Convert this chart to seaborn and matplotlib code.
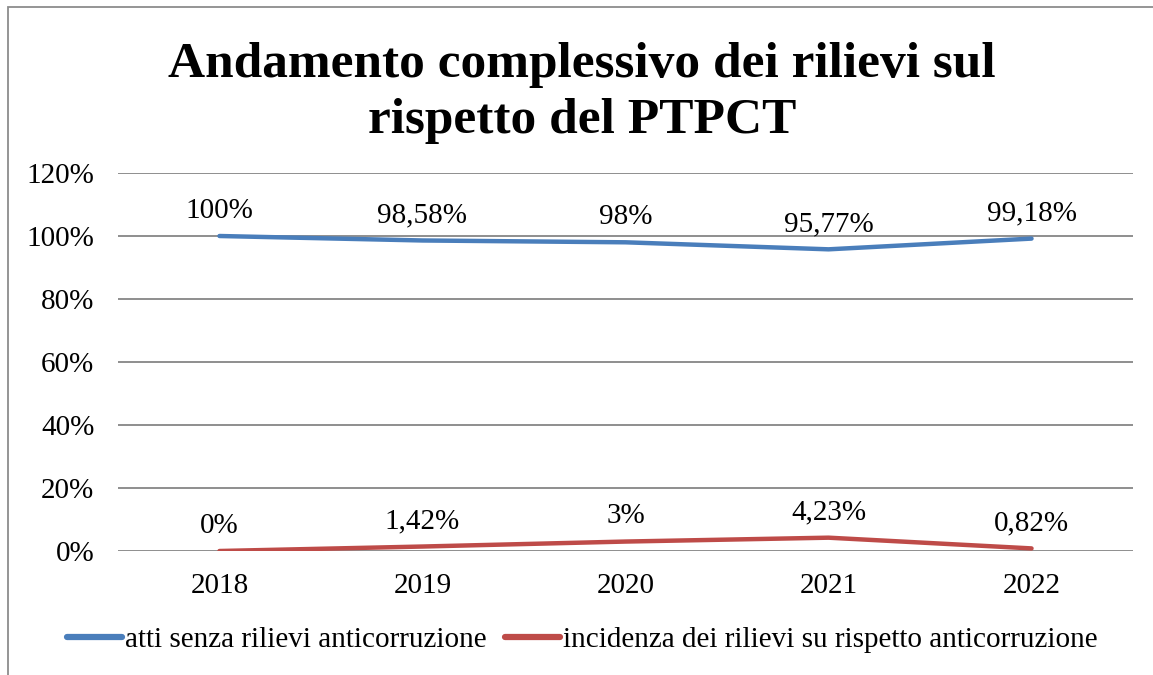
import seaborn as sns
import matplotlib.pyplot as plt
import pandas as pd
from matplotlib.patches import Rectangle

years = ["2018", "2019", "2020", "2021", "2022"]
senza_rilievi = [100, 98.58, 98, 95.77, 99.18]
incidenza_rilievi = [0, 1.42, 3, 4.23, 0.82]
series_names = ["atti senza rilievi anticorruzione",
                "incidenza dei rilievi su rispetto anticorruzione"]
y_ticks = [0, 20, 40, 60, 80, 100, 120]

df = pd.DataFrame({
    "anno": years * 2,
    "valore": senza_rilievi + incidenza_rilievi,
    "serie": [series_names[0]] * len(years) + [series_names[1]] * len(years),
})

sns.set_theme(style="white")
plt.rcParams['font.family'] = ['Liberation Serif', 'DejaVu Serif']
plt.rcParams['text.color'] = "black"

fig = plt.figure(figsize=(11.53, 6.75), dpi=100)
ax = fig.add_axes([0.1023, 0.1837, 0.8804, 0.56])

palette = {series_names[0]: "#4A7EBB", series_names[1]: "#BE4B48"}
sns.lineplot(data=df, x="anno", y="valore", hue="serie", palette=palette,
             linewidth=3.2, ax=ax, legend=False, sort=False,
             solid_capstyle="round", zorder=3)

# gridlines
for t in y_ticks:
    ax.axhline(t, color="#868686", linewidth=1.3, zorder=1)

ax.set_xlim(-0.5, len(years) - 0.5)
ax.set_ylim(0, 120)
ax.set_yticks(y_ticks)
ax.set_yticklabels([f"{t}%" for t in y_ticks], fontsize=21, color="black")
ax.set_xticks(range(len(years)))
ax.set_xticklabels(years, fontsize=21, color="black")
ax.tick_params(axis="y", pad=17, length=0)
ax.tick_params(axis="x", pad=16, length=0)
ax.set_xlabel("")
ax.set_ylabel("")
for s in ax.spines.values():
    s.set_visible(False)


def fmt(v):
    s = f"{v:.2f}".rstrip("0").rstrip(".")
    return s.replace(".", ",") + "%"


for vals in (senza_rilievi, incidenza_rilievi):
    for i, v in enumerate(vals):
        ax.annotate(fmt(v), (i, v), xytext=(0, 13), textcoords="offset points",
                    ha="center", va="baseline", fontsize=21, color="black")

fig.text(0.505, 0.903, "Andamento complessivo dei rilievi sul",
         ha="center", va="center", fontsize=37, fontweight="bold", color="black")
fig.text(0.505, 0.821, "rispetto del PTPCT",
         ha="center", va="center", fontsize=37, fontweight="bold", color="black")

handles = [plt.Line2D([], [], color=palette[n], linewidth=4.5,
                      solid_capstyle="round") for n in series_names]
fig.legend(handles, series_names, loc="center", bbox_to_anchor=(0.505, 0.052),
           ncol=2, frameon=False, fontsize=21, handlelength=1.9,
           handletextpad=0.1, columnspacing=0.6)

fig.patches.append(Rectangle((0.007, -0.01), 1.0, 0.9996, transform=fig.transFigure,
                             fill=False, edgecolor="#8c8c8c", linewidth=1.3))

plt.savefig("out.png", dpi=100)
plt.close()
